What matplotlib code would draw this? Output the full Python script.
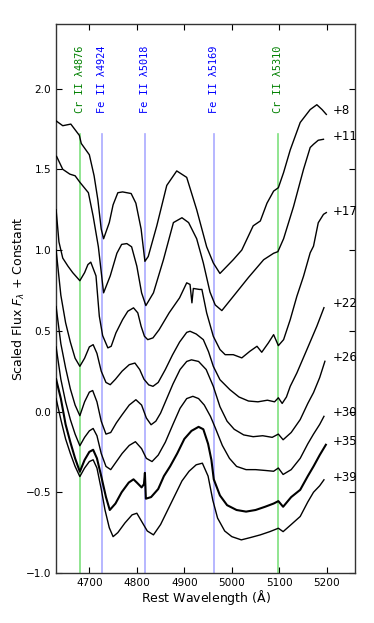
import matplotlib
matplotlib.use("Agg")
import matplotlib.pyplot as plt
from matplotlib.ticker import FixedLocator, FuncFormatter

# ---------------- data ----------------
epochs = ["+8", "+11", "+17", "+22", "+26", "+30", "+35", "+39"]

wl8 = [4630, 4644, 4661, 4679, 4683, 4700, 4710, 4718, 4725, 4730, 4742, 4750, 4760, 4770, 4788, 4798, 4809, 4817, 4824, 4842,
       4863, 4884, 4905, 4926, 4947, 4961, 4975, 5003, 5021, 5045, 5060, 5074, 5088, 5098, 5109, 5123, 5144, 5165, 5179, 5190, 5199]
fl8 = [1.80, 1.77, 1.78, 1.71, 1.66, 1.59, 1.46, 1.31, 1.13, 1.07, 1.17, 1.28, 1.355, 1.36, 1.35, 1.29, 1.13, 0.93, 0.96, 1.15,
       1.40, 1.49, 1.45, 1.25, 1.02, 0.92, 0.855, 0.94, 1.00, 1.15, 1.18, 1.29, 1.365, 1.386, 1.48, 1.62, 1.79, 1.87, 1.90, 1.87, 1.84]

wl11 = [4631, 4644, 4659, 4670, 4680, 4698, 4708, 4719, 4730, 4744, 4758, 4768, 4779, 4789, 4800, 4810, 4819, 4835, 4856, 4877,
        4895, 4909, 4926, 4940, 4954, 4965, 4979, 5005, 5035, 5067, 5088, 5097, 5109, 5130, 5151, 5165, 5172, 5182, 5193]
fl11 = [1.58, 1.50, 1.47, 1.46, 1.42, 1.355, 1.21, 1.02, 0.735, 0.84, 0.98, 1.035, 1.04, 1.02, 0.90, 0.735, 0.656, 0.735, 0.94, 1.17,
        1.20, 1.17, 1.07, 0.92, 0.74, 0.66, 0.625, 0.72, 0.83, 0.94, 0.98, 0.99, 1.07, 1.27, 1.50, 1.635, 1.655, 1.68, 1.686]

wl17 = [4630, 4636, 4644, 4655, 4665, 4680, 4690, 4697, 4703, 4714, 4721, 4728, 4739, 4746, 4756, 4770, 4781, 4793, 4802, 4809,
        4816, 4823, 4834, 4847, 4868, 4890, 4905, 4912, 4916, 4919, 4932, 4937, 4947, 4961, 4975, 4986, 5003, 5021, 5038, 5053,
        5063, 5077, 5088, 5098, 5109, 5123, 5137, 5151, 5165, 5172, 5182, 5193, 5199]
fl17 = [1.25, 1.05, 0.95, 0.90, 0.86, 0.81, 0.86, 0.91, 0.925, 0.84, 0.59, 0.47, 0.394, 0.404, 0.487, 0.569, 0.621, 0.642, 0.611, 0.528,
        0.466, 0.445, 0.456, 0.507, 0.611, 0.704, 0.797, 0.787, 0.673, 0.762, 0.756, 0.756, 0.611, 0.466, 0.384, 0.352, 0.352, 0.332, 0.373, 0.404,
        0.367, 0.425, 0.476, 0.408, 0.445, 0.569, 0.714, 0.838, 0.983, 1.024, 1.169, 1.221, 1.232]

wl22 = [4630, 4640, 4650, 4660, 4670, 4680, 4690, 4700, 4708, 4716, 4725, 4735, 4744, 4755, 4769, 4784, 4796, 4806, 4815, 4825,
        4834, 4845, 4860, 4875, 4890, 4905, 4912, 4925, 4940, 4951, 4961, 4975, 4996, 5015, 5035, 5055, 5075, 5090, 5098, 5106,
        5115, 5123, 5137, 5158, 5179, 5194]
fl22 = [1.00, 0.72, 0.55, 0.43, 0.33, 0.28, 0.33, 0.40, 0.414, 0.36, 0.25, 0.18, 0.166, 0.20, 0.25, 0.29, 0.30, 0.26, 0.20, 0.165,
        0.156, 0.18, 0.26, 0.35, 0.43, 0.49, 0.497, 0.48, 0.445, 0.37, 0.28, 0.197, 0.135, 0.09, 0.065, 0.06, 0.07, 0.06, 0.085, 0.05,
        0.09, 0.156, 0.239, 0.383, 0.528, 0.643]

wl26 = [4630, 4640, 4650, 4660, 4670, 4680, 4690, 4700, 4707, 4716, 4725, 4735, 4745, 4757, 4769, 4784, 4798, 4810, 4820, 4830,
        4840, 4850, 4862, 4876, 4891, 4905, 4915, 4930, 4946, 4961, 4975, 4990, 5005, 5025, 5045, 5065, 5085, 5098, 5108, 5125,
        5144, 5160, 5172, 5185, 5196]
fl26 = [0.65, 0.42, 0.27, 0.14, 0.04, -0.026, 0.06, 0.12, 0.13, 0.06, -0.06, -0.14, -0.13, -0.07, -0.02, 0.04, 0.073, 0.04, -0.04, -0.082,
        -0.06, -0.01, 0.073, 0.17, 0.26, 0.31, 0.32, 0.31, 0.26, 0.156, 0.03, -0.06, -0.11, -0.145, -0.156, -0.15, -0.16, -0.14, -0.175, -0.13,
        -0.05, 0.05, 0.117, 0.21, 0.311]

wl30 = [4630, 4640, 4650, 4660, 4670, 4680, 4690, 4700, 4708, 4716, 4725, 4735, 4745, 4757, 4769, 4784, 4797, 4810, 4820, 4832,
        4845, 4860, 4876, 4891, 4905, 4918, 4930, 4942, 4955, 4965, 4980, 4995, 5010, 5030, 5050, 5070, 5088, 5098, 5108, 5125,
        5144, 5160, 5172, 5185, 5194]
fl30 = [0.40, 0.20, 0.06, -0.05, -0.14, -0.212, -0.16, -0.12, -0.105, -0.15, -0.26, -0.34, -0.36, -0.31, -0.26, -0.21, -0.187, -0.23, -0.29, -0.31,
        -0.27, -0.19, -0.08, 0.02, 0.08, 0.094, 0.08, 0.04, -0.03, -0.10, -0.21, -0.29, -0.34, -0.36, -0.36, -0.365, -0.37, -0.35, -0.39, -0.36,
        -0.29, -0.20, -0.14, -0.08, -0.03]

wl35 = [4630, 4640, 4650, 4660, 4670, 4680, 4690, 4700, 4708, 4716, 4725, 4735, 4743, 4755, 4768, 4783, 4793, 4800, 4810, 4815,
        4817, 4819, 4830, 4845, 4857, 4870, 4885, 4900, 4915, 4930, 4940, 4950, 4957, 4962, 4975, 4990, 5010, 5030, 5050, 5070,
        5088, 5098, 5108, 5125, 5144, 5160, 5172, 5185, 5198]
fl35 = [0.20, 0.08, -0.08, -0.19, -0.29, -0.373, -0.30, -0.25, -0.237, -0.29, -0.40, -0.53, -0.61, -0.57, -0.50, -0.44, -0.42, -0.44, -0.47, -0.45,
        -0.38, -0.54, -0.53, -0.48, -0.40, -0.34, -0.26, -0.17, -0.12, -0.095, -0.11, -0.20, -0.30, -0.42, -0.52, -0.58, -0.61, -0.62, -0.61, -0.59,
        -0.57, -0.555, -0.59, -0.53, -0.485, -0.40, -0.34, -0.27, -0.206]

wl39 = [4630, 4640, 4650, 4660, 4670, 4680, 4690, 4700, 4708, 4716, 4725, 4733, 4742, 4750, 4760, 4775, 4790, 4800, 4810, 4822,
        4835, 4850, 4865, 4880, 4895, 4910, 4925, 4938, 4950, 4960, 4970, 4985, 5000, 5020, 5040, 5060, 5080, 5098, 5108, 5125,
        5144, 5160, 5172, 5185, 5194]
fl39 = [0.08, -0.05, -0.17, -0.26, -0.34, -0.403, -0.35, -0.31, -0.299, -0.35, -0.48, -0.61, -0.72, -0.775, -0.75, -0.69, -0.64, -0.63, -0.68, -0.74,
        -0.764, -0.70, -0.61, -0.52, -0.43, -0.37, -0.33, -0.32, -0.40, -0.55, -0.66, -0.74, -0.775, -0.795, -0.78, -0.764, -0.744, -0.723, -0.744, -0.70,
        -0.65, -0.56, -0.50, -0.46, -0.423]

label_y = [1.866, 1.704, 1.241, 0.669, 0.334, -0.006, -0.185, -0.41]

line_ions = ["Cr II", "Fe II", "Fe II", "Fe II", "Cr II"]
line_rest = [4876, 4924, 5018, 5169, 5310]
line_velocity_kms = 12000.0

xticks = [4700, 4800, 4900, 5000, 5100, 5200]
yticks = [-1.0, -0.5, 0.0, 0.5, 1.0, 1.5, 2.0]

# ---------------- plot ----------------
fig = plt.figure(figsize=(3.74, 6.23), dpi=100)
ax = fig.add_axes([0.150, 0.0803, 0.800, 0.8812])

c_kms = 299792.458
ion_colors = {"Cr II": ("#7ee07e", "#008000"), "Fe II": ("#aaaaff", "#0000ff")}
for ion, rest in zip(line_ions, line_rest):
    x = rest * (1.0 - line_velocity_kms / c_kms)
    lc, tc = ion_colors[ion]
    ax.plot([x, x], [-1.0, 1.72], color=lc, lw=1.2, zorder=1)
    ax.text(x, 1.85, f"{ion} \u03bb{rest}", rotation=90, ha="center", va="bottom",
            color=tc, fontsize=7.4, family="DejaVu Sans Mono")

spectra = [(wl8, fl8), (wl11, fl11), (wl17, fl17), (wl22, fl22),
           (wl26, fl26), (wl30, fl30), (wl35, fl35), (wl39, fl39)]
widths = [1.0, 1.0, 1.0, 1.0, 1.0, 1.0, 1.5, 1.0]
for (wl, fl), lw, lab, ly in zip(spectra, widths, epochs, label_y):
    ax.plot(wl, fl, color="black", lw=lw, zorder=3)
    ax.text(5212, ly, lab, ha="left", va="center", fontsize=8.5)

ax.set_xlim(4630, 5260)
ax.set_ylim(-1.0, 2.4)
ax.xaxis.set_major_locator(FixedLocator(xticks))
ax.yaxis.set_major_locator(FixedLocator(yticks))
ax.yaxis.set_major_formatter(FuncFormatter(lambda v, p: f"{v:.1f}".replace("-", "\u2212")))
ax.tick_params(direction="in", top=True, right=True, length=4, width=0.8, labelsize=7.6)
for s in ax.spines.values():
    s.set_linewidth(1.0)
    s.set_color("#333333")

ax.set_xlabel("Rest Wavelength ($\\mathrm{\\AA}$)", fontsize=9, labelpad=0)
ax.set_ylabel("Scaled Flux $F_\\lambda$ + Constant", fontsize=9, labelpad=-1)

fig.savefig("out.png", dpi=100)
